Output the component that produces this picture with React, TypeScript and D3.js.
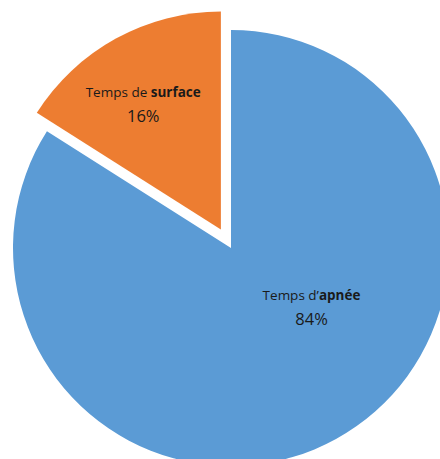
import React from 'react';
import * as d3 from 'd3';

const labels = ['Temps d\u2019', 'Temps de '];
const boldLabels = ['apnée', 'surface'];
const values = [84, 16];
const colors = ['#5B9BD5', '#ED7D31'];

const App: React.FC = () => {
  const width = 440, height = 459;
  const cx = 231, cy = 248;
  const r = 218;

  const pie = d3.pie<number>().sort(null).value(d => d);
  const arcs = pie(values);
  const arc = d3.arc<d3.PieArcDatum<number>>().innerRadius(0).outerRadius(r);

  // excel-like label placement: angle shift and radius fraction per slice
  const labelAdj = [{ da: -0.46, f: 0.45 }, { da: -0.04, f: 0.69 }];
  const explode = [0, 21];

  return (
    <svg width={width} height={height} style={{ position: 'absolute', left: 0, top: 0 }}>
      {arcs.map((a, i) => {
        const mid = (a.startAngle + a.endAngle) / 2;
        const ox = explode[i] * Math.sin(mid);
        const oy = -explode[i] * Math.cos(mid);
        const la = mid + labelAdj[i].da;
        const lx = labelAdj[i].f * r * Math.sin(la);
        const ly = -labelAdj[i].f * r * Math.cos(la);
        return (
          <g key={i} transform={`translate(${cx + ox},${cy + oy})`}>
            <path d={arc(a) || ''} fill={colors[i]} />
            <text x={lx} y={ly - 4} textAnchor="middle" fontFamily="'Open Sans', sans-serif"
              fontSize={13.5} fill="#1a1a1a">
              {labels[i]}<tspan fontWeight="bold">{boldLabels[i]}</tspan>
            </text>
            <text x={lx} y={ly + 21} textAnchor="middle" fontFamily="'Open Sans', sans-serif"
              fontSize={16.5} fill="#1a1a1a">
              {values[i]}%
            </text>
          </g>
        );
      })}
    </svg>
  );
};

export default App;
